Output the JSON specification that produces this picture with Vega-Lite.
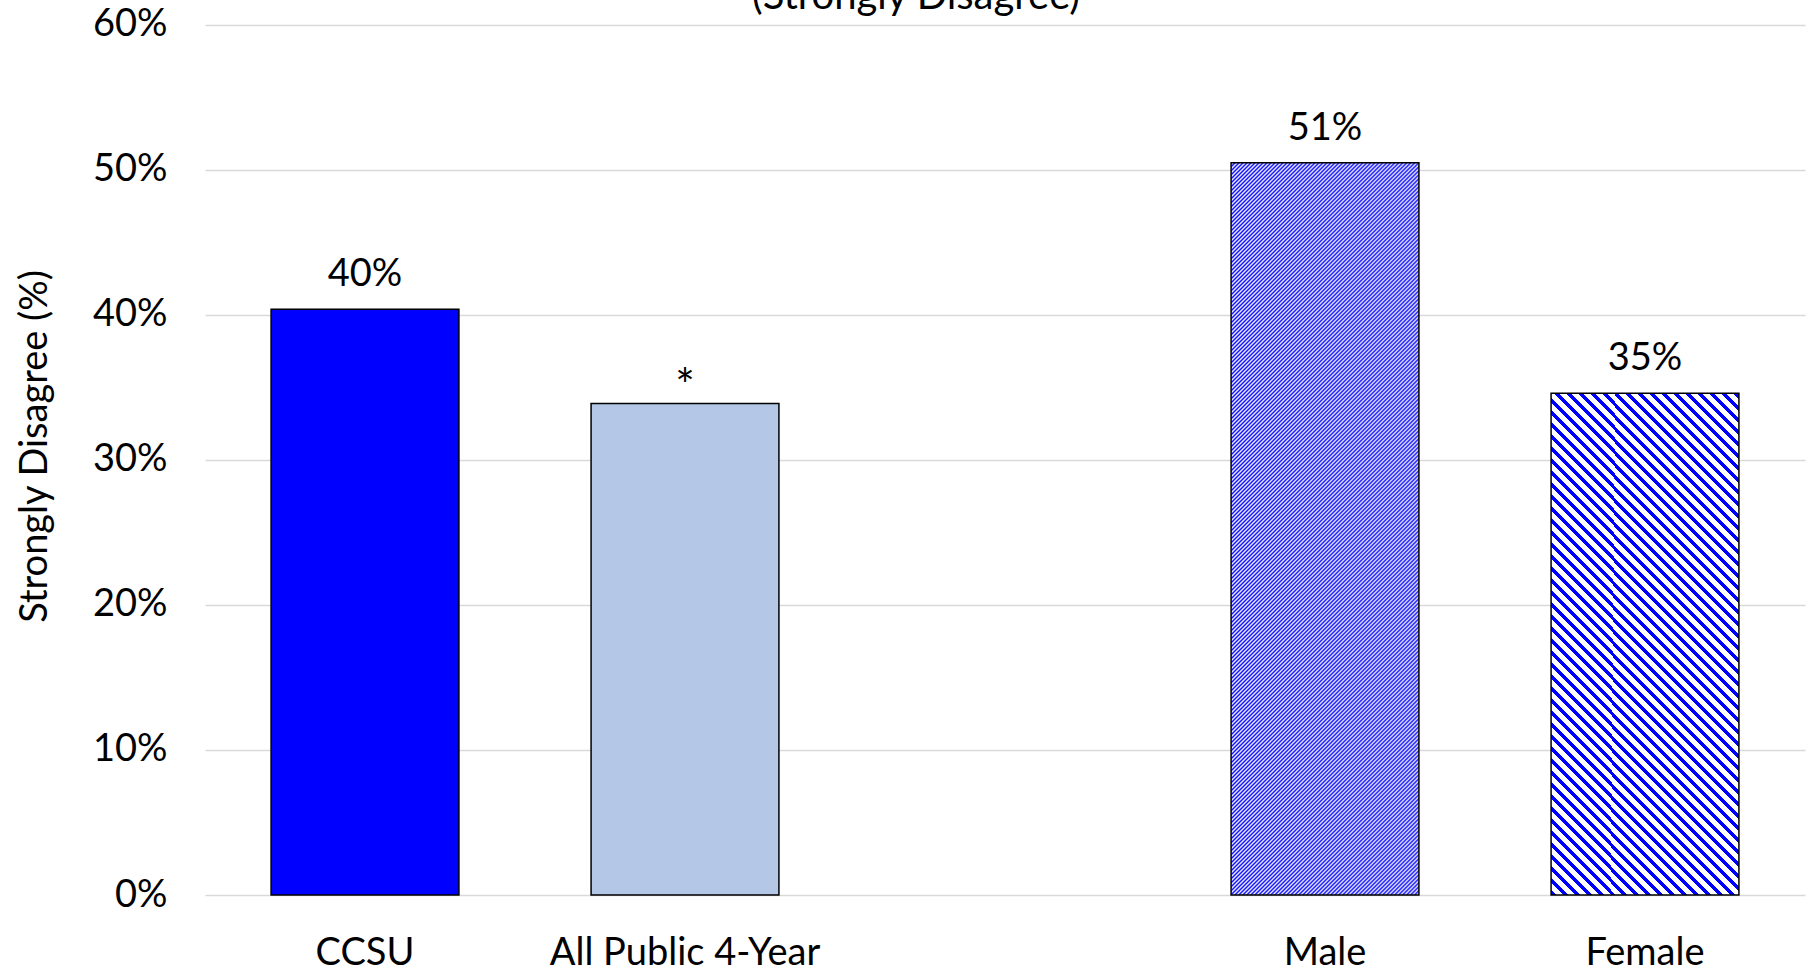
{
"$schema":"https://vega.github.io/schema/vega-lite/v6.json",
"width":1600,"height":895,"autosize":"none",
"padding":{"left":205,"top":0,"right":2,"bottom":78},
"background":"white",
"config":{"view":{"stroke":null},"font":"Lato"},
"data":{"values":[
{"group":"CCSU","value":40.4,"label":"40%"},
{"group":"All Public 4-Year","value":33.9,"label":"*"},
{"group":"Male","value":50.5,"label":"51%"},
{"group":"Female","value":34.6,"label":"35%"}
]},
"encoding":{
"x":{"field":"group","type":"nominal","sort":null,
"scale":{"domain":["CCSU","All Public 4-Year"," ","Male","Female"],"paddingInner":0.413,"paddingOuter":0.2065},
"axis":{"title":null,"labelAngle":0,"labelLimit":0,"domain":false,"ticks":false,"tickSize":0,"labelFontSize":38,"labelFont":"Lato","labelColor":"#000","labelBaseline":"alphabetic","labelPadding":69,"grid":false}},
"y":{"field":"value","type":"quantitative",
"scale":{"domain":[0,61.724],"nice":false},
"axis":{"values":[0,10,20,30,40,50,60],"labelExpr":"datum.value + '%'","domain":false,"ticks":false,"tickSize":0,"grid":true,"gridColor":"#d9d9d9","gridWidth":1.5,"labelFontSize":38,"labelFont":"Lato","labelColor":"#000","labelPadding":38,
"title":"Strongly Disagree (%)","titleFontSize":38,"titleFont":"Lato","titleFontWeight":"normal","titleColor":"#000","titleX":-170,"titleY":446,"titleAngle":-90,"titleAlign":"center","titleBaseline":"middle"}}
},
"layer":[
{"transform":[{"filter":"datum.group === 'CCSU'"}],"mark":{"type":"bar","fill":"#0000ff","stroke":"#000","strokeWidth":1.5}},
{"transform":[{"filter":"datum.group === 'All Public 4-Year'"}],"mark":{"type":"bar","fill":"#b4c7e7","stroke":"#000","strokeWidth":1.5}},
{"transform":[{"filter":"datum.group === 'Male'"}],"mark":{"type":"bar","stroke":"#000","strokeWidth":1.5,"fill":{"gradient":"linear","x1":0,"y1":0,"x2":0.3291,"y2":1.2811,"stops":[
{"offset":0,"color":"#00f"},{"offset":0.002,"color":"#fff"},{"offset":0.004,"color":"#00f"},{"offset":0.006,"color":"#fff"},{"offset":0.008,"color":"#00f"},
{"offset":0.01,"color":"#fff"},{"offset":0.012,"color":"#00f"},{"offset":0.014,"color":"#fff"},{"offset":0.016,"color":"#00f"},{"offset":0.018,"color":"#fff"},
{"offset":0.02,"color":"#00f"},{"offset":0.022,"color":"#fff"},{"offset":0.024,"color":"#00f"},{"offset":0.026,"color":"#fff"},{"offset":0.028,"color":"#00f"},
{"offset":0.03,"color":"#fff"},{"offset":0.032,"color":"#00f"},{"offset":0.034,"color":"#fff"},{"offset":0.036,"color":"#00f"},{"offset":0.038,"color":"#fff"},
{"offset":0.04,"color":"#00f"},{"offset":0.042,"color":"#fff"},{"offset":0.044,"color":"#00f"},{"offset":0.046,"color":"#fff"},{"offset":0.048,"color":"#00f"},
{"offset":0.05,"color":"#fff"},{"offset":0.052,"color":"#00f"},{"offset":0.054,"color":"#fff"},{"offset":0.056,"color":"#00f"},{"offset":0.058,"color":"#fff"},
{"offset":0.06,"color":"#00f"},{"offset":0.062,"color":"#fff"},{"offset":0.064,"color":"#00f"},{"offset":0.066,"color":"#fff"},{"offset":0.068,"color":"#00f"},
{"offset":0.07,"color":"#fff"},{"offset":0.072,"color":"#00f"},{"offset":0.074,"color":"#fff"},{"offset":0.076,"color":"#00f"},{"offset":0.078,"color":"#fff"},
{"offset":0.08,"color":"#00f"},{"offset":0.082,"color":"#fff"},{"offset":0.084,"color":"#00f"},{"offset":0.086,"color":"#fff"},{"offset":0.088,"color":"#00f"},
{"offset":0.09,"color":"#fff"},{"offset":0.092,"color":"#00f"},{"offset":0.094,"color":"#fff"},{"offset":0.096,"color":"#00f"},{"offset":0.098,"color":"#fff"},
{"offset":0.1,"color":"#00f"},{"offset":0.102,"color":"#fff"},{"offset":0.104,"color":"#00f"},{"offset":0.106,"color":"#fff"},{"offset":0.108,"color":"#00f"},
{"offset":0.11,"color":"#fff"},{"offset":0.112,"color":"#00f"},{"offset":0.114,"color":"#fff"},{"offset":0.116,"color":"#00f"},{"offset":0.118,"color":"#fff"},
{"offset":0.12,"color":"#00f"},{"offset":0.122,"color":"#fff"},{"offset":0.124,"color":"#00f"},{"offset":0.126,"color":"#fff"},{"offset":0.128,"color":"#00f"},
{"offset":0.13,"color":"#fff"},{"offset":0.132,"color":"#00f"},{"offset":0.134,"color":"#fff"},{"offset":0.136,"color":"#00f"},{"offset":0.138,"color":"#fff"},
{"offset":0.14,"color":"#00f"},{"offset":0.142,"color":"#fff"},{"offset":0.144,"color":"#00f"},{"offset":0.146,"color":"#fff"},{"offset":0.148,"color":"#00f"},
{"offset":0.15,"color":"#fff"},{"offset":0.152,"color":"#00f"},{"offset":0.154,"color":"#fff"},{"offset":0.156,"color":"#00f"},{"offset":0.158,"color":"#fff"},
{"offset":0.16,"color":"#00f"},{"offset":0.162,"color":"#fff"},{"offset":0.164,"color":"#00f"},{"offset":0.166,"color":"#fff"},{"offset":0.168,"color":"#00f"},
{"offset":0.17,"color":"#fff"},{"offset":0.172,"color":"#00f"},{"offset":0.174,"color":"#fff"},{"offset":0.176,"color":"#00f"},{"offset":0.178,"color":"#fff"},
{"offset":0.18,"color":"#00f"},{"offset":0.182,"color":"#fff"},{"offset":0.184,"color":"#00f"},{"offset":0.186,"color":"#fff"},{"offset":0.188,"color":"#00f"},
{"offset":0.19,"color":"#fff"},{"offset":0.192,"color":"#00f"},{"offset":0.194,"color":"#fff"},{"offset":0.196,"color":"#00f"},{"offset":0.198,"color":"#fff"},
{"offset":0.2,"color":"#00f"},{"offset":0.202,"color":"#fff"},{"offset":0.204,"color":"#00f"},{"offset":0.206,"color":"#fff"},{"offset":0.208,"color":"#00f"},
{"offset":0.21,"color":"#fff"},{"offset":0.212,"color":"#00f"},{"offset":0.214,"color":"#fff"},{"offset":0.216,"color":"#00f"},{"offset":0.218,"color":"#fff"},
{"offset":0.22,"color":"#00f"},{"offset":0.222,"color":"#fff"},{"offset":0.224,"color":"#00f"},{"offset":0.226,"color":"#fff"},{"offset":0.228,"color":"#00f"},
{"offset":0.23,"color":"#fff"},{"offset":0.232,"color":"#00f"},{"offset":0.234,"color":"#fff"},{"offset":0.236,"color":"#00f"},{"offset":0.238,"color":"#fff"},
{"offset":0.24,"color":"#00f"},{"offset":0.242,"color":"#fff"},{"offset":0.244,"color":"#00f"},{"offset":0.246,"color":"#fff"},{"offset":0.248,"color":"#00f"},
{"offset":0.25,"color":"#fff"},{"offset":0.252,"color":"#00f"},{"offset":0.254,"color":"#fff"},{"offset":0.256,"color":"#00f"},{"offset":0.258,"color":"#fff"},
{"offset":0.26,"color":"#00f"},{"offset":0.262,"color":"#fff"},{"offset":0.264,"color":"#00f"},{"offset":0.266,"color":"#fff"},{"offset":0.268,"color":"#00f"},
{"offset":0.27,"color":"#fff"},{"offset":0.272,"color":"#00f"},{"offset":0.274,"color":"#fff"},{"offset":0.276,"color":"#00f"},{"offset":0.278,"color":"#fff"},
{"offset":0.28,"color":"#00f"},{"offset":0.282,"color":"#fff"},{"offset":0.284,"color":"#00f"},{"offset":0.286,"color":"#fff"},{"offset":0.288,"color":"#00f"},
{"offset":0.29,"color":"#fff"},{"offset":0.292,"color":"#00f"},{"offset":0.294,"color":"#fff"},{"offset":0.296,"color":"#00f"},{"offset":0.298,"color":"#fff"},
{"offset":0.3,"color":"#00f"},{"offset":0.302,"color":"#fff"},{"offset":0.304,"color":"#00f"},{"offset":0.306,"color":"#fff"},{"offset":0.308,"color":"#00f"},
{"offset":0.31,"color":"#fff"},{"offset":0.312,"color":"#00f"},{"offset":0.314,"color":"#fff"},{"offset":0.316,"color":"#00f"},{"offset":0.318,"color":"#fff"},
{"offset":0.32,"color":"#00f"},{"offset":0.322,"color":"#fff"},{"offset":0.324,"color":"#00f"},{"offset":0.326,"color":"#fff"},{"offset":0.328,"color":"#00f"},
{"offset":0.33,"color":"#fff"},{"offset":0.332,"color":"#00f"},{"offset":0.334,"color":"#fff"},{"offset":0.336,"color":"#00f"},{"offset":0.338,"color":"#fff"},
{"offset":0.34,"color":"#00f"},{"offset":0.342,"color":"#fff"},{"offset":0.344,"color":"#00f"},{"offset":0.346,"color":"#fff"},{"offset":0.348,"color":"#00f"},
{"offset":0.35,"color":"#fff"},{"offset":0.352,"color":"#00f"},{"offset":0.354,"color":"#fff"},{"offset":0.356,"color":"#00f"},{"offset":0.358,"color":"#fff"},
{"offset":0.36,"color":"#00f"},{"offset":0.362,"color":"#fff"},{"offset":0.364,"color":"#00f"},{"offset":0.366,"color":"#fff"},{"offset":0.368,"color":"#00f"},
{"offset":0.37,"color":"#fff"},{"offset":0.372,"color":"#00f"},{"offset":0.374,"color":"#fff"},{"offset":0.376,"color":"#00f"},{"offset":0.378,"color":"#fff"},
{"offset":0.38,"color":"#00f"},{"offset":0.382,"color":"#fff"},{"offset":0.384,"color":"#00f"},{"offset":0.386,"color":"#fff"},{"offset":0.388,"color":"#00f"},
{"offset":0.39,"color":"#fff"},{"offset":0.392,"color":"#00f"},{"offset":0.394,"color":"#fff"},{"offset":0.396,"color":"#00f"},{"offset":0.398,"color":"#fff"},
{"offset":0.4,"color":"#00f"},{"offset":0.402,"color":"#fff"},{"offset":0.404,"color":"#00f"},{"offset":0.406,"color":"#fff"},{"offset":0.408,"color":"#00f"},
{"offset":0.41,"color":"#fff"},{"offset":0.412,"color":"#00f"},{"offset":0.414,"color":"#fff"},{"offset":0.416,"color":"#00f"},{"offset":0.418,"color":"#fff"},
{"offset":0.42,"color":"#00f"},{"offset":0.422,"color":"#fff"},{"offset":0.424,"color":"#00f"},{"offset":0.426,"color":"#fff"},{"offset":0.428,"color":"#00f"},
{"offset":0.43,"color":"#fff"},{"offset":0.432,"color":"#00f"},{"offset":0.434,"color":"#fff"},{"offset":0.436,"color":"#00f"},{"offset":0.438,"color":"#fff"},
{"offset":0.44,"color":"#00f"},{"offset":0.442,"color":"#fff"},{"offset":0.444,"color":"#00f"},{"offset":0.446,"color":"#fff"},{"offset":0.448,"color":"#00f"},
{"offset":0.45,"color":"#fff"},{"offset":0.452,"color":"#00f"},{"offset":0.454,"color":"#fff"},{"offset":0.456,"color":"#00f"},{"offset":0.458,"color":"#fff"},
{"offset":0.46,"color":"#00f"},{"offset":0.462,"color":"#fff"},{"offset":0.464,"color":"#00f"},{"offset":0.466,"color":"#fff"},{"offset":0.468,"color":"#00f"},
{"offset":0.47,"color":"#fff"},{"offset":0.472,"color":"#00f"},{"offset":0.474,"color":"#fff"},{"offset":0.476,"color":"#00f"},{"offset":0.478,"color":"#fff"},
{"offset":0.48,"color":"#00f"},{"offset":0.482,"color":"#fff"},{"offset":0.484,"color":"#00f"},{"offset":0.486,"color":"#fff"},{"offset":0.488,"color":"#00f"},
{"offset":0.49,"color":"#fff"},{"offset":0.492,"color":"#00f"},{"offset":0.494,"color":"#fff"},{"offset":0.496,"color":"#00f"},{"offset":0.498,"color":"#fff"},
{"offset":0.5,"color":"#00f"},{"offset":0.502,"color":"#fff"},{"offset":0.504,"color":"#00f"},{"offset":0.506,"color":"#fff"},{"offset":0.508,"color":"#00f"},
{"offset":0.51,"color":"#fff"},{"offset":0.512,"color":"#00f"},{"offset":0.514,"color":"#fff"},{"offset":0.516,"color":"#00f"},{"offset":0.518,"color":"#fff"},
{"offset":0.52,"color":"#00f"},{"offset":0.522,"color":"#fff"},{"offset":0.524,"color":"#00f"},{"offset":0.526,"color":"#fff"},{"offset":0.528,"color":"#00f"},
{"offset":0.53,"color":"#fff"},{"offset":0.532,"color":"#00f"},{"offset":0.534,"color":"#fff"},{"offset":0.536,"color":"#00f"},{"offset":0.538,"color":"#fff"},
{"offset":0.54,"color":"#00f"},{"offset":0.542,"color":"#fff"},{"offset":0.544,"color":"#00f"},{"offset":0.546,"color":"#fff"},{"offset":0.548,"color":"#00f"},
{"offset":0.55,"color":"#fff"},{"offset":0.552,"color":"#00f"},{"offset":0.554,"color":"#fff"},{"offset":0.556,"color":"#00f"},{"offset":0.558,"color":"#fff"},
{"offset":0.56,"color":"#00f"},{"offset":0.562,"color":"#fff"},{"offset":0.564,"color":"#00f"},{"offset":0.566,"color":"#fff"},{"offset":0.568,"color":"#00f"},
{"offset":0.57,"color":"#fff"},{"offset":0.572,"color":"#00f"},{"offset":0.574,"color":"#fff"},{"offset":0.576,"color":"#00f"},{"offset":0.578,"color":"#fff"},
{"offset":0.58,"color":"#00f"},{"offset":0.582,"color":"#fff"},{"offset":0.584,"color":"#00f"},{"offset":0.586,"color":"#fff"},{"offset":0.588,"color":"#00f"},
{"offset":0.59,"color":"#fff"},{"offset":0.592,"color":"#00f"},{"offset":0.594,"color":"#fff"},{"offset":0.596,"color":"#00f"},{"offset":0.598,"color":"#fff"},
{"offset":0.6,"color":"#00f"},{"offset":0.602,"color":"#fff"},{"offset":0.604,"color":"#00f"},{"offset":0.606,"color":"#fff"},{"offset":0.608,"color":"#00f"},
{"offset":0.61,"color":"#fff"},{"offset":0.612,"color":"#00f"},{"offset":0.614,"color":"#fff"},{"offset":0.616,"color":"#00f"},{"offset":0.618,"color":"#fff"},
{"offset":0.62,"color":"#00f"},{"offset":0.622,"color":"#fff"},{"offset":0.624,"color":"#00f"},{"offset":0.626,"color":"#fff"},{"offset":0.628,"color":"#00f"},
{"offset":0.63,"color":"#fff"},{"offset":0.632,"color":"#00f"},{"offset":0.634,"color":"#fff"},{"offset":0.636,"color":"#00f"},{"offset":0.638,"color":"#fff"},
{"offset":0.64,"color":"#00f"},{"offset":0.642,"color":"#fff"},{"offset":0.644,"color":"#00f"},{"offset":0.646,"color":"#fff"},{"offset":0.648,"color":"#00f"},
{"offset":0.65,"color":"#fff"},{"offset":0.652,"color":"#00f"},{"offset":0.654,"color":"#fff"},{"offset":0.656,"color":"#00f"},{"offset":0.658,"color":"#fff"},
{"offset":0.66,"color":"#00f"},{"offset":0.662,"color":"#fff"},{"offset":0.664,"color":"#00f"},{"offset":0.666,"color":"#fff"},{"offset":0.668,"color":"#00f"},
{"offset":0.67,"color":"#fff"},{"offset":0.672,"color":"#00f"},{"offset":0.674,"color":"#fff"},{"offset":0.676,"color":"#00f"},{"offset":0.678,"color":"#fff"},
{"offset":0.68,"color":"#00f"},{"offset":0.682,"color":"#fff"},{"offset":0.684,"color":"#00f"},{"offset":0.686,"color":"#fff"},{"offset":0.688,"color":"#00f"},
{"offset":0.69,"color":"#fff"},{"offset":0.692,"color":"#00f"},{"offset":0.694,"color":"#fff"},{"offset":0.696,"color":"#00f"},{"offset":0.698,"color":"#fff"},
{"offset":0.7,"color":"#00f"},{"offset":0.702,"color":"#fff"},{"offset":0.704,"color":"#00f"},{"offset":0.706,"color":"#fff"},{"offset":0.708,"color":"#00f"},
{"offset":0.71,"color":"#fff"},{"offset":0.712,"color":"#00f"},{"offset":0.714,"color":"#fff"},{"offset":0.716,"color":"#00f"},{"offset":0.718,"color":"#fff"},
{"offset":0.72,"color":"#00f"},{"offset":0.722,"color":"#fff"},{"offset":0.724,"color":"#00f"},{"offset":0.726,"color":"#fff"},{"offset":0.728,"color":"#00f"},
{"offset":0.73,"color":"#fff"},{"offset":0.732,"color":"#00f"},{"offset":0.734,"color":"#fff"},{"offset":0.736,"color":"#00f"},{"offset":0.738,"color":"#fff"},
{"offset":0.74,"color":"#00f"},{"offset":0.742,"color":"#fff"},{"offset":0.744,"color":"#00f"},{"offset":0.746,"color":"#fff"},{"offset":0.748,"color":"#00f"},
{"offset":0.75,"color":"#fff"},{"offset":0.752,"color":"#00f"},{"offset":0.754,"color":"#fff"},{"offset":0.756,"color":"#00f"},{"offset":0.758,"color":"#fff"},
{"offset":0.76,"color":"#00f"},{"offset":0.762,"color":"#fff"},{"offset":0.764,"color":"#00f"},{"offset":0.766,"color":"#fff"},{"offset":0.768,"color":"#00f"},
{"offset":0.77,"color":"#fff"},{"offset":0.772,"color":"#00f"},{"offset":0.774,"color":"#fff"},{"offset":0.776,"color":"#00f"},{"offset":0.778,"color":"#fff"},
{"offset":0.78,"color":"#00f"},{"offset":0.782,"color":"#fff"},{"offset":0.784,"color":"#00f"},{"offset":0.786,"color":"#fff"},{"offset":0.788,"color":"#00f"},
{"offset":0.79,"color":"#fff"},{"offset":0.792,"color":"#00f"},{"offset":0.794,"color":"#fff"},{"offset":0.796,"color":"#00f"},{"offset":0.798,"color":"#fff"},
{"offset":0.8,"color":"#00f"},{"offset":0.802,"color":"#fff"},{"offset":0.804,"color":"#00f"},{"offset":0.806,"color":"#fff"},{"offset":0.808,"color":"#00f"},
{"offset":0.81,"color":"#fff"},{"offset":0.812,"color":"#00f"},{"offset":0.814,"color":"#fff"},{"offset":0.816,"color":"#00f"},{"offset":0.818,"color":"#fff"},
{"offset":0.82,"color":"#00f"},{"offset":0.822,"color":"#fff"},{"offset":0.824,"color":"#00f"},{"offset":0.826,"color":"#fff"},{"offset":0.828,"color":"#00f"},
{"offset":0.83,"color":"#fff"},{"offset":0.832,"color":"#00f"},{"offset":0.834,"color":"#fff"},{"offset":0.836,"color":"#00f"},{"offset":0.838,"color":"#fff"},
{"offset":0.84,"color":"#00f"},{"offset":0.842,"color":"#fff"},{"offset":0.844,"color":"#00f"},{"offset":0.846,"color":"#fff"},{"offset":0.848,"color":"#00f"},
{"offset":0.85,"color":"#fff"},{"offset":0.852,"color":"#00f"},{"offset":0.854,"color":"#fff"},{"offset":0.856,"color":"#00f"},{"offset":0.858,"color":"#fff"},
{"offset":0.86,"color":"#00f"},{"offset":0.862,"color":"#fff"},{"offset":0.864,"color":"#00f"},{"offset":0.866,"color":"#fff"},{"offset":0.868,"color":"#00f"},
{"offset":0.87,"color":"#fff"},{"offset":0.872,"color":"#00f"},{"offset":0.874,"color":"#fff"},{"offset":0.876,"color":"#00f"},{"offset":0.878,"color":"#fff"},
{"offset":0.88,"color":"#00f"},{"offset":0.882,"color":"#fff"},{"offset":0.884,"color":"#00f"},{"offset":0.886,"color":"#fff"},{"offset":0.888,"color":"#00f"},
{"offset":0.89,"color":"#fff"},{"offset":0.892,"color":"#00f"},{"offset":0.894,"color":"#fff"},{"offset":0.896,"color":"#00f"},{"offset":0.898,"color":"#fff"},
{"offset":0.9,"color":"#00f"},{"offset":0.902,"color":"#fff"},{"offset":0.904,"color":"#00f"},{"offset":0.906,"color":"#fff"},{"offset":0.908,"color":"#00f"},
{"offset":0.91,"color":"#fff"},{"offset":0.912,"color":"#00f"},{"offset":0.914,"color":"#fff"},{"offset":0.916,"color":"#00f"},{"offset":0.918,"color":"#fff"},
{"offset":0.92,"color":"#00f"},{"offset":0.922,"color":"#fff"},{"offset":0.924,"color":"#00f"},{"offset":0.926,"color":"#fff"},{"offset":0.928,"color":"#00f"},
{"offset":0.93,"color":"#fff"}
]}}},
{"transform":[{"filter":"datum.group === 'Female'"}],"mark":{"type":"bar","stroke":"#000","strokeWidth":1.5,"fill":{"gradient":"linear","x1":0,"y1":1,"x2":0.6552,"y2":-0.7476,"stops":[
{"offset":0,"color":"#00f"},{"offset":0.005,"color":"#00f"},{"offset":0.005,"color":"#fff"},{"offset":0.012,"color":"#fff"},
{"offset":0.012,"color":"#00f"},{"offset":0.017,"color":"#00f"},{"offset":0.017,"color":"#fff"},{"offset":0.024,"color":"#fff"},
{"offset":0.024,"color":"#00f"},{"offset":0.029,"color":"#00f"},{"offset":0.029,"color":"#fff"},{"offset":0.036,"color":"#fff"},
{"offset":0.036,"color":"#00f"},{"offset":0.041,"color":"#00f"},{"offset":0.041,"color":"#fff"},{"offset":0.048,"color":"#fff"},
{"offset":0.048,"color":"#00f"},{"offset":0.053,"color":"#00f"},{"offset":0.053,"color":"#fff"},{"offset":0.06,"color":"#fff"},
{"offset":0.06,"color":"#00f"},{"offset":0.065,"color":"#00f"},{"offset":0.065,"color":"#fff"},{"offset":0.072,"color":"#fff"},
{"offset":0.072,"color":"#00f"},{"offset":0.077,"color":"#00f"},{"offset":0.077,"color":"#fff"},{"offset":0.084,"color":"#fff"},
{"offset":0.084,"color":"#00f"},{"offset":0.089,"color":"#00f"},{"offset":0.089,"color":"#fff"},{"offset":0.096,"color":"#fff"},
{"offset":0.096,"color":"#00f"},{"offset":0.101,"color":"#00f"},{"offset":0.101,"color":"#fff"},{"offset":0.108,"color":"#fff"},
{"offset":0.108,"color":"#00f"},{"offset":0.113,"color":"#00f"},{"offset":0.113,"color":"#fff"},{"offset":0.12,"color":"#fff"},
{"offset":0.12,"color":"#00f"},{"offset":0.125,"color":"#00f"},{"offset":0.125,"color":"#fff"},{"offset":0.132,"color":"#fff"},
{"offset":0.132,"color":"#00f"},{"offset":0.137,"color":"#00f"},{"offset":0.137,"color":"#fff"},{"offset":0.144,"color":"#fff"},
{"offset":0.144,"color":"#00f"},{"offset":0.149,"color":"#00f"},{"offset":0.149,"color":"#fff"},{"offset":0.156,"color":"#fff"},
{"offset":0.156,"color":"#00f"},{"offset":0.161,"color":"#00f"},{"offset":0.161,"color":"#fff"},{"offset":0.168,"color":"#fff"},
{"offset":0.168,"color":"#00f"},{"offset":0.173,"color":"#00f"},{"offset":0.173,"color":"#fff"},{"offset":0.18,"color":"#fff"},
{"offset":0.18,"color":"#00f"},{"offset":0.185,"color":"#00f"},{"offset":0.185,"color":"#fff"},{"offset":0.192,"color":"#fff"},
{"offset":0.192,"color":"#00f"},{"offset":0.197,"color":"#00f"},{"offset":0.197,"color":"#fff"},{"offset":0.204,"color":"#fff"},
{"offset":0.204,"color":"#00f"},{"offset":0.209,"color":"#00f"},{"offset":0.209,"color":"#fff"},{"offset":0.216,"color":"#fff"},
{"offset":0.216,"color":"#00f"},{"offset":0.221,"color":"#00f"},{"offset":0.221,"color":"#fff"},{"offset":0.228,"color":"#fff"},
{"offset":0.228,"color":"#00f"},{"offset":0.233,"color":"#00f"},{"offset":0.233,"color":"#fff"},{"offset":0.24,"color":"#fff"},
{"offset":0.24,"color":"#00f"},{"offset":0.245,"color":"#00f"},{"offset":0.245,"color":"#fff"},{"offset":0.252,"color":"#fff"},
{"offset":0.252,"color":"#00f"},{"offset":0.257,"color":"#00f"},{"offset":0.257,"color":"#fff"},{"offset":0.264,"color":"#fff"},
{"offset":0.264,"color":"#00f"},{"offset":0.269,"color":"#00f"},{"offset":0.269,"color":"#fff"},{"offset":0.276,"color":"#fff"},
{"offset":0.276,"color":"#00f"},{"offset":0.281,"color":"#00f"},{"offset":0.281,"color":"#fff"},{"offset":0.288,"color":"#fff"},
{"offset":0.288,"color":"#00f"},{"offset":0.293,"color":"#00f"},{"offset":0.293,"color":"#fff"},{"offset":0.3,"color":"#fff"},
{"offset":0.3,"color":"#00f"},{"offset":0.305,"color":"#00f"},{"offset":0.305,"color":"#fff"},{"offset":0.312,"color":"#fff"},
{"offset":0.312,"color":"#00f"},{"offset":0.317,"color":"#00f"},{"offset":0.317,"color":"#fff"},{"offset":0.324,"color":"#fff"},
{"offset":0.324,"color":"#00f"},{"offset":0.329,"color":"#00f"},{"offset":0.329,"color":"#fff"},{"offset":0.336,"color":"#fff"},
{"offset":0.336,"color":"#00f"},{"offset":0.341,"color":"#00f"},{"offset":0.341,"color":"#fff"},{"offset":0.348,"color":"#fff"},
{"offset":0.348,"color":"#00f"},{"offset":0.353,"color":"#00f"},{"offset":0.353,"color":"#fff"},{"offset":0.36,"color":"#fff"},
{"offset":0.36,"color":"#00f"},{"offset":0.365,"color":"#00f"},{"offset":0.365,"color":"#fff"},{"offset":0.372,"color":"#fff"},
{"offset":0.372,"color":"#00f"},{"offset":0.377,"color":"#00f"},{"offset":0.377,"color":"#fff"},{"offset":0.384,"color":"#fff"},
{"offset":0.384,"color":"#00f"},{"offset":0.389,"color":"#00f"},{"offset":0.389,"color":"#fff"},{"offset":0.396,"color":"#fff"},
{"offset":0.396,"color":"#00f"},{"offset":0.401,"color":"#00f"},{"offset":0.401,"color":"#fff"},{"offset":0.408,"color":"#fff"},
{"offset":0.408,"color":"#00f"},{"offset":0.413,"color":"#00f"},{"offset":0.413,"color":"#fff"},{"offset":0.42,"color":"#fff"},
{"offset":0.42,"color":"#00f"},{"offset":0.425,"color":"#00f"},{"offset":0.425,"color":"#fff"},{"offset":0.432,"color":"#fff"},
{"offset":0.432,"color":"#00f"},{"offset":0.437,"color":"#00f"},{"offset":0.437,"color":"#fff"},{"offset":0.444,"color":"#fff"},
{"offset":0.444,"color":"#00f"},{"offset":0.449,"color":"#00f"},{"offset":0.449,"color":"#fff"},{"offset":0.456,"color":"#fff"},
{"offset":0.456,"color":"#00f"},{"offset":0.461,"color":"#00f"},{"offset":0.461,"color":"#fff"},{"offset":0.468,"color":"#fff"},
{"offset":0.468,"color":"#00f"},{"offset":0.473,"color":"#00f"},{"offset":0.473,"color":"#fff"},{"offset":0.48,"color":"#fff"},
{"offset":0.48,"color":"#00f"},{"offset":0.485,"color":"#00f"},{"offset":0.485,"color":"#fff"},{"offset":0.492,"color":"#fff"},
{"offset":0.492,"color":"#00f"},{"offset":0.497,"color":"#00f"},{"offset":0.497,"color":"#fff"},{"offset":0.504,"color":"#fff"},
{"offset":0.504,"color":"#00f"},{"offset":0.509,"color":"#00f"},{"offset":0.509,"color":"#fff"},{"offset":0.516,"color":"#fff"},
{"offset":0.516,"color":"#00f"},{"offset":0.521,"color":"#00f"},{"offset":0.521,"color":"#fff"},{"offset":0.528,"color":"#fff"},
{"offset":0.528,"color":"#00f"},{"offset":0.533,"color":"#00f"},{"offset":0.533,"color":"#fff"},{"offset":0.54,"color":"#fff"},
{"offset":0.54,"color":"#00f"},{"offset":0.545,"color":"#00f"},{"offset":0.545,"color":"#fff"},{"offset":0.552,"color":"#fff"},
{"offset":0.552,"color":"#00f"},{"offset":0.557,"color":"#00f"},{"offset":0.557,"color":"#fff"},{"offset":0.564,"color":"#fff"},
{"offset":0.564,"color":"#00f"},{"offset":0.569,"color":"#00f"},{"offset":0.569,"color":"#fff"},{"offset":0.576,"color":"#fff"},
{"offset":0.576,"color":"#00f"},{"offset":0.581,"color":"#00f"},{"offset":0.581,"color":"#fff"},{"offset":0.588,"color":"#fff"},
{"offset":0.588,"color":"#00f"},{"offset":0.593,"color":"#00f"},{"offset":0.593,"color":"#fff"},{"offset":0.6,"color":"#fff"},
{"offset":0.6,"color":"#00f"},{"offset":0.605,"color":"#00f"},{"offset":0.605,"color":"#fff"},{"offset":0.612,"color":"#fff"},
{"offset":0.612,"color":"#00f"},{"offset":0.617,"color":"#00f"},{"offset":0.617,"color":"#fff"},{"offset":0.624,"color":"#fff"},
{"offset":0.624,"color":"#00f"},{"offset":0.629,"color":"#00f"},{"offset":0.629,"color":"#fff"},{"offset":0.636,"color":"#fff"},
{"offset":0.636,"color":"#00f"},{"offset":0.641,"color":"#00f"},{"offset":0.641,"color":"#fff"},{"offset":0.648,"color":"#fff"},
{"offset":0.648,"color":"#00f"},{"offset":0.653,"color":"#00f"},{"offset":0.653,"color":"#fff"},{"offset":0.66,"color":"#fff"},
{"offset":0.66,"color":"#00f"},{"offset":0.665,"color":"#00f"},{"offset":0.665,"color":"#fff"},{"offset":0.672,"color":"#fff"},
{"offset":0.672,"color":"#00f"},{"offset":0.677,"color":"#00f"},{"offset":0.677,"color":"#fff"},{"offset":0.684,"color":"#fff"},
{"offset":0.684,"color":"#00f"},{"offset":0.689,"color":"#00f"},{"offset":0.689,"color":"#fff"},{"offset":0.696,"color":"#fff"}
]}}},
{"transform":[{"filter":"datum.label !== '*'"}],"mark":{"type":"text","dy":-23,"baseline":"alphabetic","align":"center","fontSize":38,"font":"Lato","color":"#000"},"encoding":{"text":{"field":"label"}}},
{"transform":[{"filter":"datum.label === '*'"}],"mark":{"type":"text","dy":-1,"baseline":"alphabetic","align":"center","fontSize":46,"font":"Lato","color":"#000"},"encoding":{"text":{"field":"label"}}},
{"data":{"values":[{"group":"All Public 4-Year","value":61.1,"t":"(Strongly Disagree)"}]},"mark":{"type":"text","dx":231,"baseline":"alphabetic","align":"center","fontSize":40,"font":"Lato","color":"#000"},"encoding":{"text":{"field":"t"}}}
]
}
